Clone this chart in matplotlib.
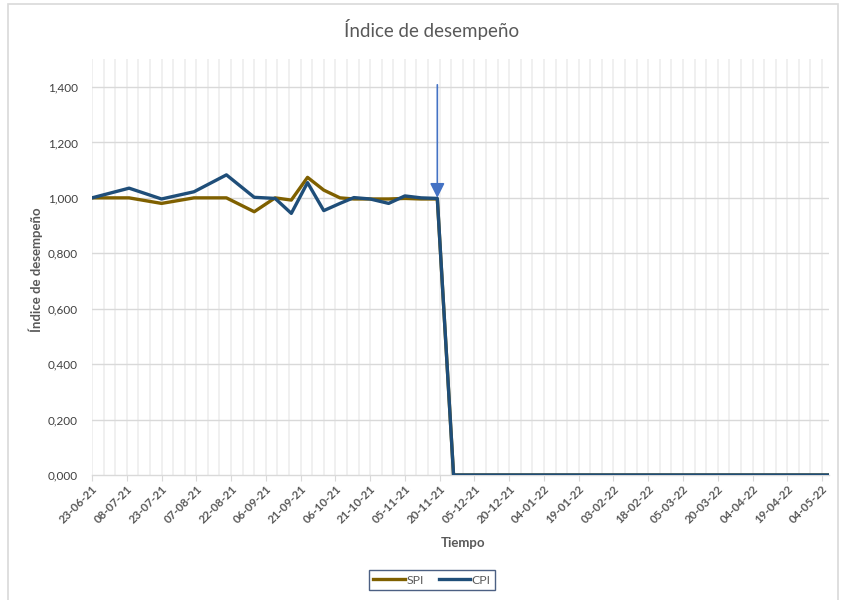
import matplotlib
matplotlib.use("Agg")
import matplotlib.pyplot as plt
import matplotlib.dates as mdates
from matplotlib.ticker import FuncFormatter, FixedLocator
from matplotlib.patches import Rectangle
import numpy as np

plt.rcParams['font.family'] = ['Lato', 'DejaVu Sans']

# fechas de corte y valores de los indices
fechas = ["2021-06-23", "2021-07-09", "2021-07-23", "2021-08-06", "2021-08-20",
          "2021-09-01", "2021-09-10", "2021-09-17", "2021-09-24", "2021-10-01",
          "2021-10-08", "2021-10-14", "2021-10-21", "2021-10-29", "2021-11-05",
          "2021-11-12", "2021-11-19", "2021-11-26", "2022-05-07"]
spi = [1.000, 1.000, 0.980, 1.000, 1.000, 0.950, 1.000, 0.992, 1.074, 1.028,
       1.000, 0.996, 0.996, 0.996, 0.998, 0.996, 0.996, 0.000, 0.000]
cpi = [1.000, 1.035, 0.996, 1.022, 1.083, 1.002, 0.998, 0.944, 1.055, 0.954,
       0.980, 1.001, 0.996, 0.980, 1.007, 1.000, 0.998, 0.000, 0.000]
fecha_corte = "2021-11-19"  # ultimo reporte (flecha)

x = mdates.date2num(np.array(fechas, dtype="datetime64[D]"))
x_corte = mdates.date2num(np.datetime64(fecha_corte))

fig = plt.figure(figsize=(8.41, 6.0), dpi=100)
ax = fig.add_axes([92 / 841, 1 - 475 / 600, (829 - 92) / 841, (475 - 59.3) / 600])

# borde del area del grafico
fig.patches.append(Rectangle((8 / 841, -0.02), 830 / 841, 1.02 - 4 / 600,
                             transform=fig.transFigure, fill=False,
                             edgecolor="#d9d9d9", lw=1.2))

# rejilla vertical cada 5 dias, horizontal cada 0,2
for xv in np.arange(x[0], x[-1] + 1, 5):
    ax.axvline(xv, color="#efefef", lw=1.3, zorder=0)
for yv in np.arange(0.2, 1.45, 0.2):
    ax.axhline(yv, color="#d9d9d9", lw=1.0, zorder=0)

ax.plot(x, spi, color="#7f6000", lw=2.4, label="SPI", zorder=3)
ax.plot(x, cpi, color="#1f4e79", lw=2.4, label="CPI", zorder=4)

ax.annotate("", xy=(x_corte, 1.0), xytext=(x_corte, 1.408),
            arrowprops=dict(arrowstyle="-|>", color="#4472c4", lw=1.2,
                            mutation_scale=22, shrinkA=0, shrinkB=0),
            zorder=5)

ax.set_xlim(x[0], x[-1])
ax.set_ylim(0, 1.5)
ax.set_yticks(np.arange(0, 1.45, 0.2))
ax.yaxis.set_major_formatter(FuncFormatter(lambda v, p: f"{v:.3f}".replace(".", ",")))
ax.xaxis.set_major_locator(FixedLocator(np.arange(x[0], x[-1] + 1, 15)))
ax.xaxis.set_major_formatter(mdates.DateFormatter("%d-%m-%y"))

for s in ["top", "right", "left"]:
    ax.spines[s].set_visible(False)
ax.spines["bottom"].set_color("#d9d9d9")
ax.spines["bottom"].set_linewidth(1.0)
ax.tick_params(axis="y", length=0, labelsize=8.5, labelcolor="#404040", pad=10)
ax.tick_params(axis="x", length=4, color="#d9d9d9", labelsize=8.3, labelcolor="#595959", pad=2)
for lbl in ax.get_xticklabels():
    lbl.set_rotation(45)
    lbl.set_ha("right")
    lbl.set_va("top")
    lbl.set_rotation_mode("anchor")
    lbl.set_fontweight("bold")

fig.text(432 / 841, 1 - 30 / 600, "Índice de desempeño", ha="center", va="center",
         fontsize=13.5, color="#595959")
fig.text(36 / 841, 1 - 270 / 600, "Índice de desempeño", ha="center", va="center",
         rotation=90, fontsize=9.5, fontweight="bold", color="#595959")
fig.text(463 / 841, 1 - 543 / 600, "Tiempo", ha="center", va="center",
         fontsize=9.5, fontweight="bold", color="#595959")

leg = fig.legend(loc="center", bbox_to_anchor=(432 / 841, 1 - 580 / 600), ncol=2,
                 frameon=True, fancybox=False, fontsize=8.8, handlelength=2.6,
                 handletextpad=0.1, columnspacing=1.2, borderpad=0.4)
leg.get_frame().set_edgecolor("#1f3864")
leg.get_frame().set_linewidth(1.0)
for t in leg.get_texts():
    t.set_color("#595959")

fig.savefig("out.png", dpi=100)
